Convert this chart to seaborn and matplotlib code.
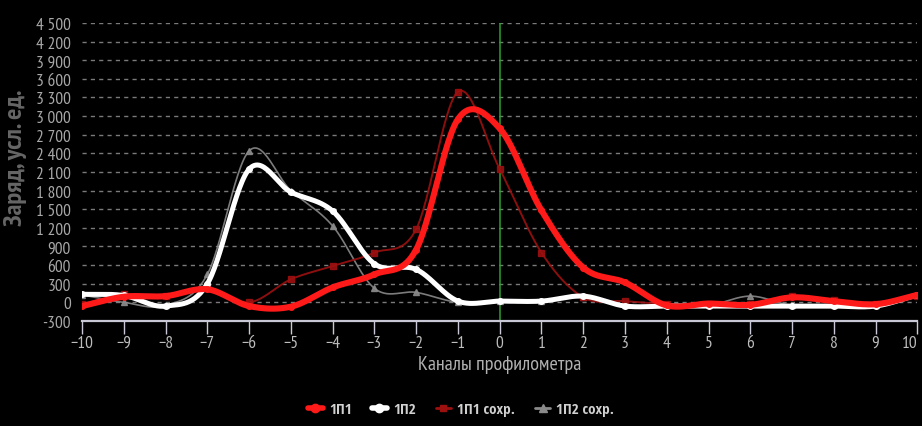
import numpy as np
import pandas as pd
import matplotlib
matplotlib.use("Agg")
import matplotlib.pyplot as plt
from matplotlib.lines import Line2D
from matplotlib.ticker import FuncFormatter
import seaborn as sns

channels = list(range(-10, 11))
p1 = [-60, 90, 100, 210, -60, -70, 240, 450, 850, 2950, 2800, 1480, 560, 320,
      -50, -20, -40, 80, 20, -30, 120]
p2 = [130, 110, -60, 300, 2145, 1775, 1470, 620, 530, 20, 20, 20, 100, -60,
      -60, -60, -60, -60, -60, -60, 120]
p1_saved = [-30, 130, 100, 240, 0, 370, 585, 800, 1180, 3390, 2145, 800, 80, 20,
            -30, -30, -20, 100, 30, -20, 100]
p2_saved = [120, 0, -50, 450, 2440, 1800, 1230, 225, 160, 0, 20, 20, 80, -50,
            -50, -50, 100, -50, -50, -50, 120]
labels = ["1П1", "1П2", "1П1 сохр.", "1П2 сохр."]

FONTS = ["PT Sans Narrow", "DejaVu Sans"]
LEGEND_FONTS = ["Open Sans Condensed", "PT Sans Narrow", "DejaVu Sans"]


def smooth(xs, ys, n=30):
    # catmull-rom style smoothing between the measured points
    xs = np.asarray(xs, float)
    ys = np.asarray(ys, float)
    m = np.gradient(ys, xs)
    out_x, out_y = [], []
    for i in range(len(xs) - 1):
        t = np.linspace(0, 1, n, endpoint=False)
        h = xs[i + 1] - xs[i]
        h00 = 2 * t**3 - 3 * t**2 + 1
        h10 = t**3 - 2 * t**2 + t
        h01 = -2 * t**3 + 3 * t**2
        h11 = t**3 - t**2
        out_x.extend(xs[i] + t * h)
        out_y.extend(h00 * ys[i] + h10 * h * m[i] + h01 * ys[i + 1] + h11 * h * m[i + 1])
    out_x.append(xs[-1])
    out_y.append(ys[-1])
    return np.array(out_x), np.array(out_y)


def main():
    sns.set_theme(style="dark")
    plt.rcParams["font.family"] = FONTS

    fig = plt.figure(figsize=(9.22, 4.27), dpi=100, facecolor="black")
    ax = fig.add_axes([0.089, 0.246, 0.906, 0.698])
    ax.set_facecolor("black")

    series = [
        (p2_saved, "#8a8a8a", 1.2, "^", 5, 0.9),
        (p1_saved, "#9c1010", 1.4, "s", 5, 0.9),
        (p2, "white", 3.6, "o", 4, 1.0),
        (p1, "#ff1a1a", 4.4, "o", 4, 1.0),
    ]
    for ys, color, lw, marker, ms, alpha in series:
        sx, sy = smooth(channels, ys)
        sns.lineplot(x=sx, y=sy, ax=ax, color=color, lw=lw, alpha=alpha,
                     sort=False, estimator=None)
        ax.plot(channels, ys, ls="none", marker=marker, ms=ms, color=color,
                alpha=alpha)

    ax.axvline(0, color="#2f9e2f", lw=1.1, zorder=1)

    ax.set_xlim(-10, 10)
    ax.set_ylim(-300, 4500)
    ax.set_xticks(channels)
    ax.set_yticks(range(-300, 4501, 300))
    ax.yaxis.set_major_formatter(FuncFormatter(lambda v, _: f"{int(v):,}".replace(",", " ")))

    ax.grid(False)
    for yv in range(0, 4501, 300):
        ax.axhline(yv, color="#7a7a7a", lw=1, ls=(0, (3, 3)), zorder=0)

    for side in ["top", "right", "left"]:
        ax.spines[side].set_visible(False)
    ax.spines["bottom"].set_color("#c8c8d6")
    ax.spines["bottom"].set_linewidth(1.6)

    ax.tick_params(axis="x", colors="#c8c8d6", length=9, width=1, labelsize=12.5,
                   labelcolor="#bdbdbd", direction="out", bottom=True, pad=1)
    ax.tick_params(axis="y", length=0, labelsize=12.5, labelcolor="#a8a8a8", pad=8)
    xlabels = ax.get_xticklabels()
    xlabels[-1].set_horizontalalignment("right")

    ax.set_xlabel("Каналы профилометра", color="#b0b0b0", fontsize=14.5, labelpad=3)
    ax.set_ylabel("Заряд, усл. ед.", color="#666666", fontsize=19,
                  fontweight="bold")
    ax.yaxis.set_label_coords(-0.066, 0.55)

    handles = [
        Line2D([], [], color="#ff1a1a", lw=4, marker="o", ms=6),
        Line2D([], [], color="white", lw=4, marker="o", ms=6),
        Line2D([], [], color="#9c1010", lw=2, marker="s", ms=5),
        Line2D([], [], color="#8a8a8a", lw=2, marker="^", ms=6),
    ]
    leg = fig.legend(handles, labels, loc="center", bbox_to_anchor=(0.5, 0.04),
                     ncol=4, frameon=False, handlelength=1.0, handletextpad=0.4,
                     columnspacing=1.3, prop={"family": LEGEND_FONTS, "size": 11,
                                              "weight": "bold"})
    for t in leg.get_texts():
        t.set_color("#d0d0d0")

    fig.savefig("out.png", dpi=100, facecolor="black")


if __name__ == "__main__":
    main()
